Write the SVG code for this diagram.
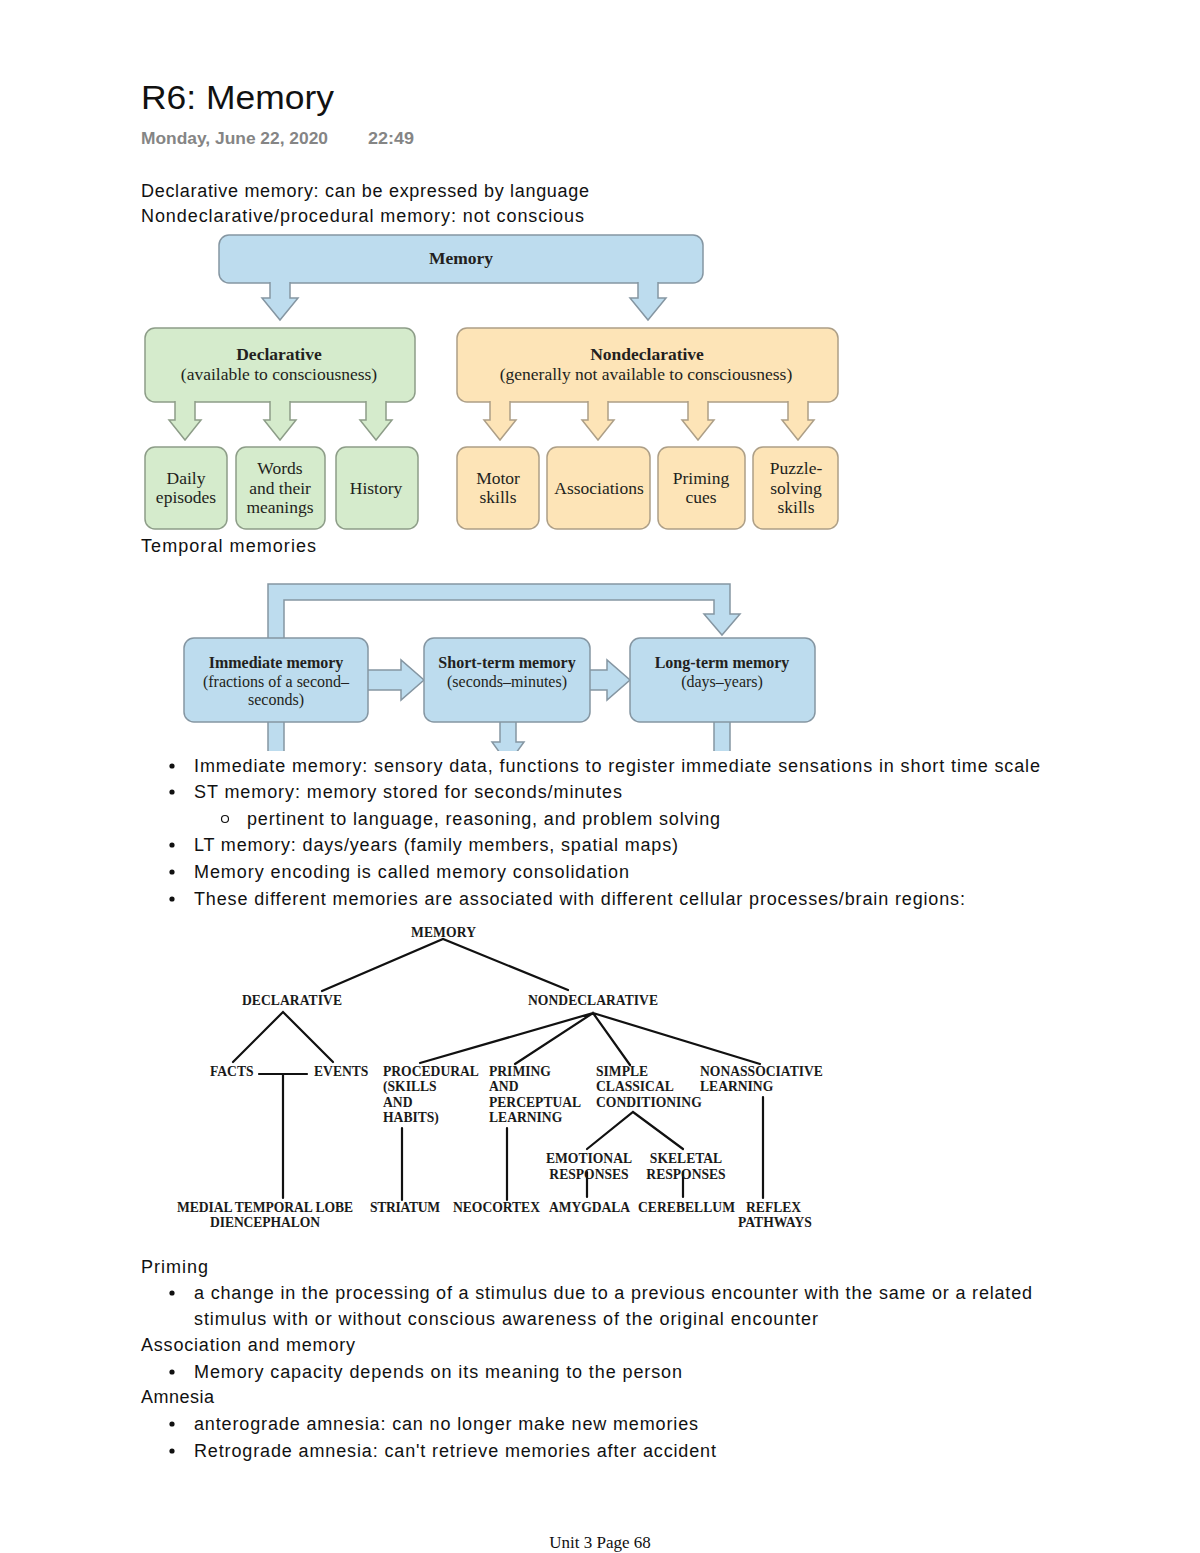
<svg xmlns="http://www.w3.org/2000/svg" width="1200" height="1553" viewBox="0 0 1200 1553">
<style>
.body{font-family:"Liberation Sans",Arial,sans-serif;font-size:18px;fill:#111}
.ser{font-family:"Liberation Serif","Times New Roman",serif;fill:#231f20;text-anchor:middle}
.bx{font-size:17.5px}
.hd{font-size:17.5px;font-weight:bold}
.tt{font-size:16px}
.tr{font-family:"Liberation Serif","Times New Roman",serif;font-weight:bold;font-size:13.6px;fill:#1a1a1a}
.blue{fill:#bddcee;stroke:#8596a2;stroke-width:1.5}
.green{fill:#d5ebcc;stroke:#8d9d88;stroke-width:1.5}
.peach{fill:#fde4b7;stroke:#ad9f87;stroke-width:1.5}
.tl{stroke:#111;stroke-width:2.2;fill:none;stroke-linecap:round}
</style>
<defs>
<clipPath id="clipT"><rect x="0" y="560" width="1200" height="191"/></clipPath>
</defs>
<rect width="1200" height="1553" fill="#fff"/>

<g id="header">
<text x="141" y="109" font-family="'Liberation Sans',Arial,sans-serif" font-size="34" fill="#111" textLength="193" lengthAdjust="spacingAndGlyphs">R6: Memory</text>
<text x="141" y="144" font-family="'Liberation Sans',Arial,sans-serif" font-size="17" font-weight="bold" fill="#858585" textLength="187" lengthAdjust="spacingAndGlyphs">Monday, June 22, 2020</text>
<text x="368" y="144" font-family="'Liberation Sans',Arial,sans-serif" font-size="17" font-weight="bold" fill="#858585" textLength="46" lengthAdjust="spacingAndGlyphs">22:49</text>
<text class="body" x="141" y="197" textLength="448">Declarative memory: can be expressed by language</text>
<text class="body" x="141" y="222" textLength="443">Nondeclarative/procedural memory: not conscious</text>
</g>

<!-- Top memory diagram -->
<g id="memory-box">
<rect class="blue" x="219" y="235" width="484" height="48" rx="10"/>
<text class="ser hd" x="461" y="264">Memory</text>
</g>
<g id="declarative-box">
<rect class="green" x="145" y="328" width="270" height="74" rx="10"/>
<text class="ser hd" x="279" y="360">Declarative</text>
<text class="ser bx" x="279" y="380">(available to consciousness)</text>
</g>
<g id="nondeclarative-box">
<rect class="peach" x="457" y="328" width="381" height="74" rx="10"/>
<text class="ser hd" x="647" y="360">Nondeclarative</text>
<text class="ser bx" x="646" y="380">(generally not available to consciousness)</text>
</g>
<g id="daily-episodes">
<rect class="green" x="145" y="447" width="82" height="82" rx="10"/>
<text class="ser bx" x="186" y="484">Daily</text>
<text class="ser bx" x="186" y="503">episodes</text>
</g>
<g id="words">
<rect class="green" x="236" y="447" width="89" height="82" rx="10"/>
<text class="ser bx" x="280" y="474">Words</text>
<text class="ser bx" x="280" y="494">and their</text>
<text class="ser bx" x="280" y="513">meanings</text>
</g>
<g id="history">
<rect class="green" x="336" y="447" width="82" height="82" rx="10"/>
<text class="ser bx" x="376" y="494">History</text>
</g>
<g id="motor-skills">
<rect class="peach" x="457" y="447" width="82" height="82" rx="10"/>
<text class="ser bx" x="498" y="484">Motor</text>
<text class="ser bx" x="498" y="503">skills</text>
</g>
<g id="associations">
<rect class="peach" x="547" y="447" width="103" height="82" rx="10"/>
<text class="ser bx" x="599" y="494">Associations</text>
</g>
<g id="priming-cues">
<rect class="peach" x="658" y="447" width="87" height="82" rx="10"/>
<text class="ser bx" x="701" y="484">Priming</text>
<text class="ser bx" x="701" y="503">cues</text>
</g>
<g id="puzzle">
<rect class="peach" x="753" y="447" width="85" height="82" rx="10"/>
<text class="ser bx" x="796" y="474">Puzzle-</text>
<text class="ser bx" x="796" y="494">solving</text>
<text class="ser bx" x="796" y="513">skills</text>
</g>

<g id="top-connectors">
<path class="blue" d="M270,282 V298 H262 L280,320 L298,298 H290 V282"/>
<path class="blue" d="M638,282 V298 H630 L648,320 L666,298 H658 V282"/>
<path class="green" d="M175,401 V420 H169 L185,440 L201,420 H195 V401"/>
<path class="green" d="M270,401 V420 H264 L280,440 L296,420 H290 V401"/>
<path class="green" d="M366,401 V420 H360 L376,440 L392,420 H386 V401"/>
<path class="peach" d="M490,401 V420 H484 L500,440 L516,420 H510 V401"/>
<path class="peach" d="M588,401 V420 H582 L598,440 L614,420 H608 V401"/>
<path class="peach" d="M688,401 V420 H682 L698,440 L714,420 H708 V401"/>
<path class="peach" d="M788,401 V420 H782 L798,440 L814,420 H808 V401"/>
</g>

<text class="body" x="141" y="552" textLength="175">Temporal memories</text>

<!-- Temporal diagram -->
<g clip-path="url(#clipT)">
<g id="temporal-connectors">
<path class="blue" d="M268,639 V584 H730 V614 H740 L722,635 L704,614 H714 V600 H284 V639"/>
<path class="blue" d="M367,670 H401 V660 L424,680 L401,700 V690 H367"/>
<path class="blue" d="M589,670 H607 V660 L630,680 L607,700 V690 H589"/>
<path class="blue" d="M268,721 V760 H284 V721"/>
<path class="blue" d="M500,721 V742 H492 L508,764 L524,742 H516 V721"/>
<path class="blue" d="M714,721 V760 H730 V721"/>
</g>
<g id="immediate">
<rect class="blue" x="184" y="638" width="184" height="84" rx="10"/>
<text class="ser tt" x="276" y="668" font-weight="bold">Immediate memory</text>
<text class="ser tt" x="276" y="687">(fractions of a second–</text>
<text class="ser tt" x="276" y="705">seconds)</text>
</g>
<g id="short-term">
<rect class="blue" x="424" y="638" width="166" height="84" rx="10"/>
<text class="ser tt" x="507" y="668" font-weight="bold">Short-term memory</text>
<text class="ser tt" x="507" y="687">(seconds–minutes)</text>
</g>
<g id="long-term">
<rect class="blue" x="630" y="638" width="185" height="84" rx="10"/>
<text class="ser tt" x="722" y="668" font-weight="bold">Long-term memory</text>
<text class="ser tt" x="722" y="687">(days–years)</text>
</g>
</g>

<g id="bullets1">
<circle cx="172" cy="766" r="2.6" fill="#111"/>
<text class="body" x="194" y="772" textLength="846">Immediate memory: sensory data, functions to register immediate sensations in short time scale</text>
<circle cx="172" cy="792" r="2.6" fill="#111"/>
<text class="body" x="194" y="798" textLength="428">ST memory: memory stored for seconds/minutes</text>
<circle cx="225" cy="819" r="3.5" fill="none" stroke="#111" stroke-width="1.2"/>
<text class="body" x="247" y="825" textLength="473">pertinent to language, reasoning, and problem solving</text>
<circle cx="172" cy="845" r="2.6" fill="#111"/>
<text class="body" x="194" y="851" textLength="484">LT memory: days/years (family members, spatial maps)</text>
<circle cx="172" cy="872" r="2.6" fill="#111"/>
<text class="body" x="194" y="878" textLength="435">Memory encoding is called memory consolidation</text>
<circle cx="172" cy="899" r="2.6" fill="#111"/>
<text class="body" x="194" y="905" textLength="771">These different memories are associated with different cellular processes/brain regions:</text>
</g>

<!-- Tree diagram -->
<g id="tree-connectors">
<path class="tl" d="M322,991 L443,939 L568,990"/>
<path class="tl" d="M233,1062 L283,1012 L333,1062"/>
<path class="tl" d="M259,1074 H307 M283,1074 V1198"/>
<path class="tl" d="M420,1063 L593,1013 M515,1064 L593,1013 M630,1065 L593,1013 M760,1064 L593,1013"/>
<path class="tl" d="M402,1128 V1200 M507,1128 V1200"/>
<path class="tl" d="M587,1149 L633,1112 L683,1149"/>
<path class="tl" d="M587,1172 V1197 M683,1172 V1197"/>
<path class="tl" d="M763,1097 V1198"/>
</g>
<g id="t-memory"><text class="tr" x="411" y="937" textLength="65">MEMORY</text></g>
<g id="t-declarative"><text class="tr" x="242" y="1005" textLength="100">DECLARATIVE</text></g>
<g id="t-nondeclarative"><text class="tr" x="528" y="1005" textLength="130">NONDECLARATIVE</text></g>
<g id="t-facts"><text class="tr" x="210" y="1076">FACTS</text></g>
<g id="t-events"><text class="tr" x="314" y="1076">EVENTS</text></g>
<g id="t-procedural">
<text class="tr" x="383" y="1076">PROCEDURAL</text>
<text class="tr" x="383" y="1091">(SKILLS</text>
<text class="tr" x="383" y="1107">AND</text>
<text class="tr" x="383" y="1122">HABITS)</text>
</g>
<g id="t-priming">
<text class="tr" x="489" y="1076">PRIMING</text>
<text class="tr" x="489" y="1091">AND</text>
<text class="tr" x="489" y="1107">PERCEPTUAL</text>
<text class="tr" x="489" y="1122">LEARNING</text>
</g>
<g id="t-simple">
<text class="tr" x="596" y="1076">SIMPLE</text>
<text class="tr" x="596" y="1091">CLASSICAL</text>
<text class="tr" x="596" y="1107">CONDITIONING</text>
</g>
<g id="t-nonassociative">
<text class="tr" x="700" y="1076">NONASSOCIATIVE</text>
<text class="tr" x="700" y="1091">LEARNING</text>
</g>
<g id="t-emotional">
<text class="tr" x="589" y="1163" text-anchor="middle">EMOTIONAL</text>
<text class="tr" x="589" y="1179" text-anchor="middle">RESPONSES</text>
</g>
<g id="t-skeletal">
<text class="tr" x="686" y="1163" text-anchor="middle">SKELETAL</text>
<text class="tr" x="686" y="1179" text-anchor="middle">RESPONSES</text>
</g>
<g id="t-mtl">
<text class="tr" x="177" y="1212" textLength="176">MEDIAL TEMPORAL LOBE</text>
<text class="tr" x="210" y="1227" textLength="110">DIENCEPHALON</text>
</g>
<g id="t-striatum"><text class="tr" x="370" y="1212" textLength="70">STRIATUM</text></g>
<g id="t-neocortex"><text class="tr" x="453" y="1212" textLength="87">NEOCORTEX</text></g>
<g id="t-amygdala"><text class="tr" x="549" y="1212" textLength="81">AMYGDALA</text></g>
<g id="t-cerebellum"><text class="tr" x="638" y="1212" textLength="97">CEREBELLUM</text></g>
<g id="t-reflex">
<text class="tr" x="746" y="1212">REFLEX</text>
<text class="tr" x="738" y="1227">PATHWAYS</text>
</g>

<g id="bottom-text">
<text class="body" x="141" y="1273" textLength="67">Priming</text>
<circle cx="172" cy="1293" r="2.6" fill="#111"/>
<text class="body" x="194" y="1299" textLength="838">a change in the processing of a stimulus due to a previous encounter with the same or a related</text>
<text class="body" x="194" y="1325" textLength="624">stimulus with or without conscious awareness of the original encounter</text>
<text class="body" x="141" y="1351" textLength="214">Association and memory</text>
<circle cx="172" cy="1372" r="2.6" fill="#111"/>
<text class="body" x="194" y="1378" textLength="488">Memory capacity depends on its meaning to the person</text>
<text class="body" x="141" y="1403" textLength="73">Amnesia</text>
<circle cx="172" cy="1424" r="2.6" fill="#111"/>
<text class="body" x="194" y="1430" textLength="504">anterograde amnesia: can no longer make new memories</text>
<circle cx="172" cy="1451" r="2.6" fill="#111"/>
<text class="body" x="194" y="1457" textLength="522">Retrograde amnesia: can't retrieve memories after accident</text>
</g>

<g id="footer">
<text x="600" y="1548" font-family="'Liberation Serif','Times New Roman',serif" font-size="17" fill="#111" text-anchor="middle">Unit 3 Page 68</text>
</g>
</svg>
